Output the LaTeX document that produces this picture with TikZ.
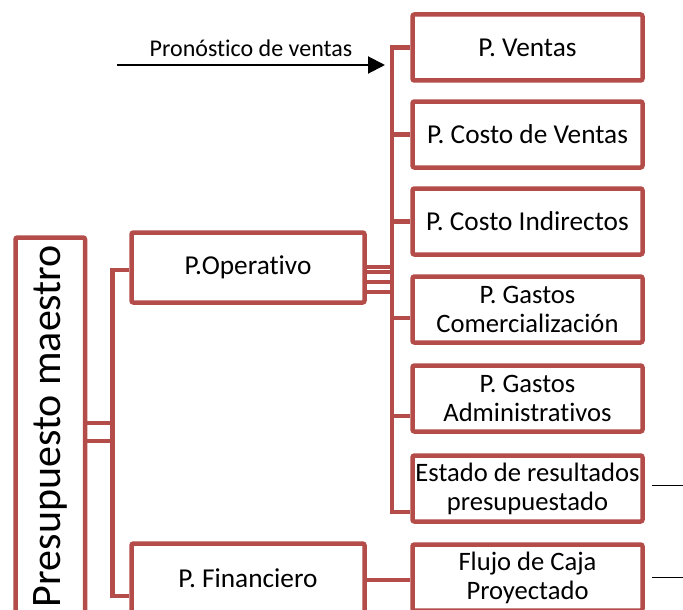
\documentclass[tikz,border=0pt]{standalone}
\usepackage{fontspec}
\setmainfont{Carlito}[Ligatures=NoCommon]
\usetikzlibrary{arrows.meta}
\definecolor{boxred}{RGB}{180,76,74}
\begin{document}
\begin{tikzpicture}[x=1pt, y=-1pt,
  box/.style={draw=boxred, line width=4.5pt, rounded corners=2pt, fill=white,
    inner sep=0pt, align=center, font=\fontsize{27.3}{29}\selectfont},
  twoline/.style={font=\fontsize{26.6}{29}\selectfont},
  childbox/.style={box, minimum width=230pt, minimum height=66pt},
  midbox/.style={box, minimum width=233pt, minimum height=70pt},
  conn/.style={draw=boxred, line width=4.5pt},
  tail/.style={draw=black, line width=1.5pt}]
  \useasboundingbox (0,0) rectangle (683,610);
  % main box, rotated
  \node (pm) at (50.25,437.5) [box, rotate=90, minimum width=400pt, minimum height=69.5pt,
    font=\fontsize{42}{46}\selectfont] {\hspace*{23pt}Presupuesto maestro};
  \node (op) at (248,267.5) [midbox] {P.Operativo};
  \node (fin) at (248,578.5) [midbox] {P. Financiero};
  % children of P.Operativo
  \node (pv) at (527.5,47.5) [childbox] {P. Ventas};
  \node (cv) at (527.5,134.5) [childbox] {P. Costo de Ventas};
  \node (ci) at (527.5,221.5) [childbox] {P. Costo Indirectos};
  \node (gc) at (527.5,309.5) [childbox, twoline] {P. Gastos\\Comercialización};
  \node (ga) at (527.5,398.5) [childbox, twoline] {P. Gastos\\Administrativos};
  \node (er) at (527.5,488.5) [childbox, twoline] {Estado de resultados\\presupuestado};
  \node (fc) at (527.5,577.5) [childbox, twoline] {Flujo de Caja\\Proyectado};
  % buses
  \coordinate (busA) at (112.5,270);
  \coordinate (busAend) at (112.5,596);
  \coordinate (busB) at (392,47.5);
  \coordinate (busBend) at (392,512);
  \draw[conn] (pm.south |- 0,423) -- (busA |- 0,423);
  \draw[conn] (pm.south |- 0,441) -- (busA |- 0,441);
  \draw[conn] (op.west |- busA) -- (busA) -- (busAend) -- (fin.west |- busAend);
  \foreach \yy in {267,272,282,292}
    \draw[conn] (op.east |- 0,\yy) -- (busB |- 0,\yy);
  \draw[conn] (pv.west) -- (busB) -- (busBend) -- (er.west |- busBend);
  \draw[conn] (cv.west) -- (busB |- cv.west);
  \draw[conn] (ci.west) -- (busB |- ci.west);
  \draw[conn] (gc.west |- 0,318) -- (busB |- 0,318);
  \draw[conn] (ga.west |- 0,416) -- (busB |- 0,416);
  \draw[conn] (fin.east |- 0,580) -- (fc.west |- 0,580);
  % forecast arrow
  \coordinate (fcst) at (117,65);
  \coordinate (fcstend) at (385,65);
  \draw[line width=2pt, -{Triangle[length=17pt,width=17pt]}] (fcst) -- (fcstend)
    node[midway, above=4pt, font=\fontsize{24}{28}\selectfont] {Pronóstico de ventas};
  % loose lines on the right
  \draw[tail] (er.east) ++(7,-3) -- +(40,0);
  \draw[tail] (fc.east) ++(7,0) -- +(40,0);
\end{tikzpicture}
\end{document}
